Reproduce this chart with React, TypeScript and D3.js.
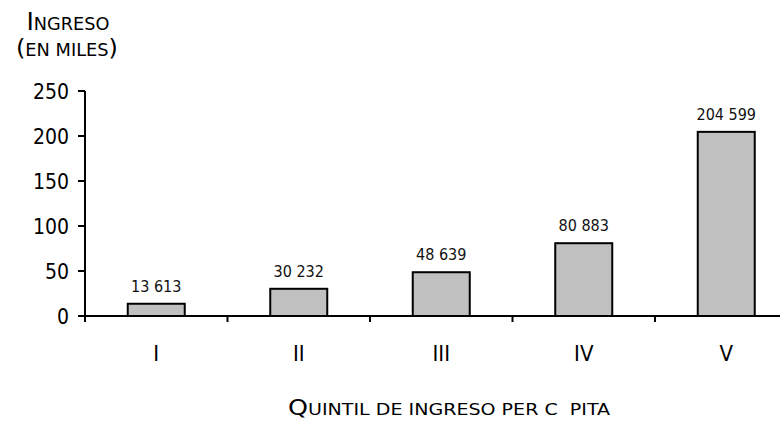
import { useEffect, useRef } from 'react';
import * as d3 from 'd3';

const quintiles = ['I', 'II', 'III', 'IV', 'V'];
const income = [13.613, 30.232, 48.639, 80.883, 204.599];
const incomeLabels = ['13 613', '30 232', '48 639', '80 883', '204 599'];
const yTicks = [0, 50, 100, 150, 200, 250];

const FONT = '"DejaVu Sans Condensed", "DejaVu Sans", sans-serif';

// fake small caps: first letter big, parentheses big, the rest upper-cased smaller
function smallCaps(
  g: d3.Selection<SVGGElement, unknown, null, undefined>,
  text: string,
  x: number,
  y: number,
  big: number,
  small: number,
  length: number
) {
  const t = g
    .append('text')
    .attr('x', x)
    .attr('y', y)
    .attr('text-anchor', 'middle')
    .attr('textLength', length)
    .attr('lengthAdjust', 'spacingAndGlyphs');
  Array.from(text).forEach((ch, i) => {
    const isParen = ch === '(' || ch === ')';
    const isBig = isParen || (i === 0 && /[A-Z]/.test(ch));
    t.append('tspan')
      .attr('font-size', isBig ? big : small)
      .text(ch === ' ' ? '\u00a0' : ch.toUpperCase());
  });
}

export default function App() {
  const ref = useRef<SVGSVGElement>(null);

  useEffect(() => {
    const svgElement = ref.current;
    if (!svgElement) {
      return;
    }
    const svg = d3.select(svgElement);
    svg.selectAll('*').remove();

    const width = 780;
    const height = 422;
    const left = 85;
    const bottom = 316;
    const top = 91;

    svg.attr('viewBox', `0 0 ${width} ${height}`);

    const x = d3
      .scaleBand<string>()
      .domain(quintiles)
      .range([left, left + 142.5 * 5])
      .paddingInner(0.6)
      .paddingOuter(0.3);
    const y = d3.scaleLinear().domain([0, 250]).range([bottom, top]);

    // bars
    svg
      .append('g')
      .selectAll('rect')
      .data(income)
      .join('rect')
      .attr('x', (_d, i) => x(quintiles[i]) ?? 0)
      .attr('y', (d) => y(d))
      .attr('width', x.bandwidth())
      .attr('height', (d) => bottom - y(d))
      .attr('fill', '#c0c0c0')
      .attr('stroke', '#000')
      .attr('stroke-width', 2);

    // value labels
    svg
      .append('g')
      .selectAll('text')
      .data(income)
      .join('text')
      .attr('x', (_d, i) => (x(quintiles[i]) ?? 0) + x.bandwidth() / 2)
      .attr('y', (d) => y(d) - 12)
      .attr('text-anchor', 'middle')
      .attr('font-family', FONT)
      .attr('font-size', 16)
      .attr('fill', '#111')
      .text((_d, i) => incomeLabels[i]);

    // y axis
    const yAxis = svg.append('g').attr('font-family', FONT);
    yAxis
      .append('line')
      .attr('x1', left)
      .attr('x2', left)
      .attr('y1', top)
      .attr('y2', bottom + 6)
      .attr('stroke', '#000')
      .attr('stroke-width', 2);
    yTicks.forEach((t) => {
      yAxis
        .append('line')
        .attr('x1', left - 7)
        .attr('x2', left)
        .attr('y1', y(t))
        .attr('y2', y(t))
        .attr('stroke', '#000')
        .attr('stroke-width', 2);
      yAxis
        .append('text')
        .attr('x', left - 16)
        .attr('y', y(t))
        .attr('dy', '0.36em')
        .attr('text-anchor', 'end')
        .attr('font-size', 21)
        .attr('fill', '#000')
        .text(t);
    });

    // x axis
    const xAxis = svg.append('g').attr('font-family', FONT);
    xAxis
      .append('line')
      .attr('x1', left - 7)
      .attr('x2', width)
      .attr('y1', bottom)
      .attr('y2', bottom)
      .attr('stroke', '#000')
      .attr('stroke-width', 2);
    quintiles.forEach((q, i) => {
      const boundary = left + x.step() * i;
      if (i > 0) {
        xAxis
          .append('line')
          .attr('x1', boundary)
          .attr('x2', boundary)
          .attr('y1', bottom)
          .attr('y2', bottom + 6)
          .attr('stroke', '#000')
          .attr('stroke-width', 2);
      }
      xAxis
        .append('text')
        .attr('x', (x(q) ?? 0) + x.bandwidth() / 2)
        .attr('y', 361)
        .attr('text-anchor', 'middle')
        .attr('font-size', 22)
        .attr('fill', '#000')
        .text(q);
    });

    // titles
    const titles = svg.append('g').attr('font-family', FONT).attr('fill', '#000');
    smallCaps(titles, 'Ingreso', 68, 30, 24, 17, 83);
    smallCaps(titles, '(en miles)', 67, 56, 23, 17, 102);
    smallCaps(titles, 'Quintil de ingreso per c  pita', 449, 415, 22, 16.5, 322);
  }, []);

  return (
    <svg
      ref={ref}
      width={780}
      height={422}
      style={{ position: 'absolute', left: 0, top: 0, background: '#fff' }}
    />
  );
}
